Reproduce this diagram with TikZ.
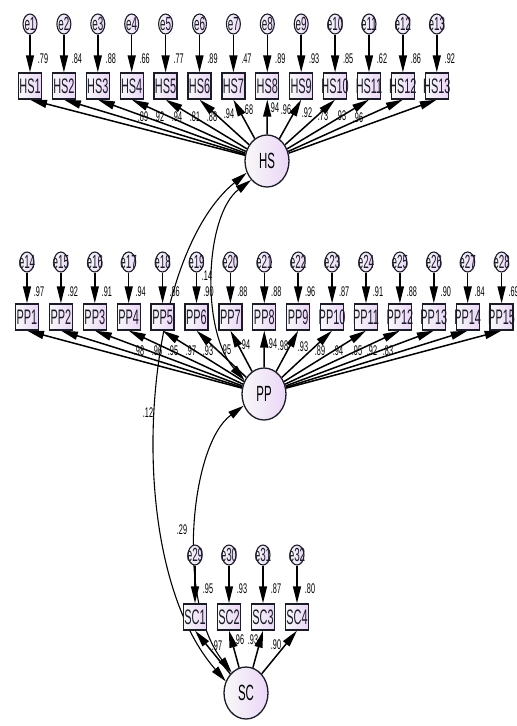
\documentclass[tikz,border=0pt]{standalone}
\usepackage{fontspec}
\setmainfont{Liberation Sans}[FakeStretch=0.52]
\usepackage{xcolor}
\usepackage{tikz}
\usetikzlibrary{arrows.meta}
\usetikzlibrary{backgrounds}
\usetikzlibrary{shapes,shapes.geometric}
\pgfdeclarelayer{edgelayer}
\pgfdeclarelayer{nodelayer}
\pgfsetlayers{background,edgelayer,nodelayer,main}
\definecolor{lavender}{RGB}{234,214,247}
\definecolor{ink}{RGB}{28,28,40}
\tikzstyle{none}=[inner sep=0mm]
\tikzstyle{shaded}=[left color=gray!5,right color=lavender,draw=ink,line width=1.3pt]
\tikzstyle{item}=[shaded,shape=rectangle,minimum width=23pt,minimum height=26pt,inner sep=0pt]
\tikzstyle{err}=[shaded,shape=ellipse,minimum width=14pt,minimum height=20pt,inner sep=0pt,line width=1.1pt]
\tikzstyle{latent}=[shaded,shape=ellipse,minimum width=44pt,minimum height=52pt,inner sep=0pt,font=\fontsize{22}{22}\selectfont]
\tikzstyle{tag}=[inner sep=0pt,text=ink,font=\fontsize{21}{21}\selectfont]
\tikzstyle{etag}=[inner sep=0pt,text=ink,font=\fontsize{19}{19}\selectfont]
\tikzstyle{wt}=[inner sep=0pt,font=\fontsize{14}{14}\selectfont]
\tikzstyle{load}=[-{Triangle[length=17pt,width=8pt]},line width=1.5pt]
\tikzstyle{cov}=[{Triangle[length=16pt,width=8pt]}-{Triangle[length=16pt,width=8pt]},line width=1.1pt]

\begin{document}
\begin{tikzpicture}[x=1pt,y=-1pt]
	\useasboundingbox (0,0) rectangle (517,726);
	\begin{pgfonlayer}{nodelayer}
		% HS block
		\foreach \v/\w/\lx/\ly [count=\i] in {.79/.89/143/117, .84/.92/159/117, .88/.94/177/117, .66/.81/195/117, .77/.88/212/117, .89/.94/229/114, .47/.68/248/110, .89/.94/274/108, .93/.96/286/110, .85/.92/307/113, .62/.73/323/116, .86/.93/341/116, .92/.96/358/118} {
			\pgfmathsetmacro\x{30+33.9*(\i-1)}
			\node [style=err, label={[etag]center:e\i}] (e\i) at (\x, 24) {};
			\node [style=item, label={[tag]center:HS\i}] (HS\i) at (\x, 86) {};
			\node [style=wt] (v\i) at (\x+13, 59) {\v};
			\node [style=wt] (wHS\i) at (\lx, \ly) {\w};
		}
		% PP block
		\foreach \v/\w/\lx/\ly [count=\i] in {.97/.98/139/351, .92/.96/157/351, .91/.95/173/351, .94/.97/191/351, .86/.93/208/351, .90/.95/226/350, .88/.94/245/345, .88/.94/272/344, .96/.98/283/346, .87/.93/303/347, .91/.89/320/351, .88/.94/338/351, .90/.95/357/351, .84/.92/372/351, .69/.83/388/351} {
			\pgfmathsetmacro\x{27+33.9*(\i-1)}
			\pgfmathtruncatemacro\k{\i+13}
			\node [style=err, label={[etag]center:e\k}] (e\k) at (\x, 262) {};
			\node [style=item, label={[tag]center:PP\i}] (PP\i) at (\x, 317) {};
			\node [style=wt] (v\k) at (\x+12, 292) {\v};
			\node [style=wt] (wPP\i) at (\lx, \ly) {\w};
		}
		% SC block
		\foreach \v/\w/\lx/\ly [count=\i] in {.95/.97/217/646, .93/.96/239/640, .87/.93/253/640, .80/.90/276/645} {
			\pgfmathsetmacro\x{195+34*(\i-1)}
			\pgfmathtruncatemacro\k{\i+28}
			\node [style=err, label={[etag]center:e\k}] (e\k) at (\x, 555) {};
			\node [style=item, label={[tag]center:SC\i}] (SC\i) at (\x, 617) {};
			\node [style=wt] (v\k) at (\x+13, 589) {\v};
			\node [style=wt] (wSC\i) at (\lx, \ly) {\w};
		}
		\node [style=latent] (HS) at (267, 161) {HS};
		\node [style=latent] (PP) at (264, 394) {PP};
		\node [style=latent] (SC) at (246, 693) {SC};
		\node [style=wt] (c1) at (207, 276) {.14};
		\node [style=wt] (c2) at (148, 413) {.12};
		\node [style=wt] (c3) at (182, 530) {.29};
	\end{pgfonlayer}
	\begin{pgfonlayer}{edgelayer}
		\foreach \i in {1,...,13} {
			\draw [style=load] (e\i) to (HS\i);
			\draw [style=load] (HS) to (HS\i.south);
		}
		\foreach \i in {1,...,15} {
			\pgfmathtruncatemacro\k{\i+13}
			\draw [style=load] (e\k) to (PP\i);
			\draw [style=load] (PP) to (PP\i.south);
		}
		\foreach \i in {1,...,4} {
			\pgfmathtruncatemacro\k{\i+28}
			\draw [style=load] (e\k) to (SC\i);
			\draw [style=load] (SC) to (SC\i.south);
		}
		\draw [style=cov] (HS.230) .. controls (205, 215) and (200, 330) .. (PP.145);
		\draw [style=cov] (HS.210) .. controls (140, 260) and (120, 560) .. (SC.150);
		\draw [style=cov] (PP.210) .. controls (190, 445) and (176, 600) .. (SC.125);
	\end{pgfonlayer}
\end{tikzpicture}
\end{document}
